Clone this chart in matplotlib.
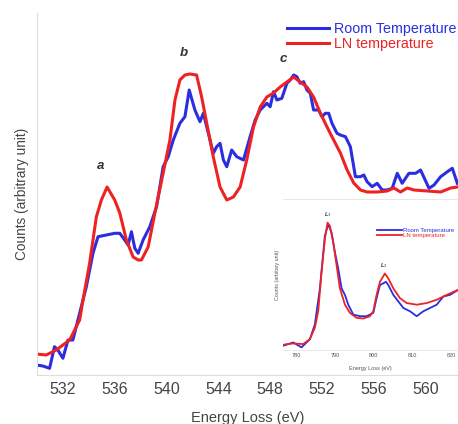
import matplotlib
matplotlib.use("Agg")
import matplotlib.pyplot as plt

# ---- main spectrum (O K-edge) ----
room_E = [529.94, 530.45, 530.97, 531.35, 531.61, 532.0, 532.39, 532.77, 533.29, 533.81,
          534.32, 534.71, 535.35, 536.0, 536.39, 536.77, 537.03, 537.29, 537.55, 537.81,
          538.19, 538.71, 539.23, 539.74, 540.13, 540.52, 541.03, 541.42, 541.75, 542.19,
          542.58, 542.84, 543.23, 543.61, 543.87, 544.13, 544.39, 544.65, 545.03, 545.42,
          545.94, 546.45, 546.84, 547.23, 547.74, 548.0, 548.26, 548.52, 548.90, 549.29,
          549.55, 549.81, 550.06, 550.32, 550.58, 550.84, 551.10, 551.35, 551.74, 552.0,
          552.26, 552.52, 552.77, 553.16, 553.42, 553.81, 554.19, 554.58, 554.97, 555.23,
          555.48, 555.87, 556.26, 556.65, 557.03, 557.42, 557.81, 558.19, 558.71, 559.23,
          559.61, 560.26, 560.65, 561.16, 561.68, 562.06, 562.45]
room_counts = [10, 9, 6.7, 28.3, 25, 16.7, 35, 35, 61.7, 88.3,
               121.7, 138.3, 140, 141.7, 141.7, 135, 130, 143.3, 126.7, 121.7,
               135, 148.3, 168.3, 208.3, 218.3, 235, 251.7, 258.3, 285, 265,
               253.3, 261.7, 241.7, 221.7, 228.3, 231.7, 215, 208.3, 225, 218.3,
               215, 238.3, 255, 265, 271.7, 268.3, 283.3, 275, 276.7, 291.7,
               295, 300, 298.3, 291.7, 293.3, 285, 281.7, 265, 265, 258.3,
               261.7, 261.7, 251.7, 241.7, 240, 238.3, 228.3, 198.3, 198.3, 200,
               193.3, 188.3, 191.7, 185, 185, 186.7, 201.7, 191.7, 201.7, 201.7,
               205, 186.7, 190, 198.3, 203.3, 206.7, 191.7]

ln_E = [529.94, 530.71, 531.48, 532.52, 533.29, 533.55, 534.06, 534.58, 534.97, 535.41,
        536.0, 536.39, 536.90, 537.42, 537.81, 538.06, 538.58, 539.10, 539.74, 540.26,
        540.65, 541.03, 541.42, 541.81, 542.32, 542.71, 543.10, 543.61, 544.13, 544.65,
        545.16, 545.68, 546.19, 546.71, 547.23, 547.74, 548.26, 548.77, 549.29, 549.81,
        550.32, 550.84, 551.35, 551.87, 552.39, 552.90, 553.42, 553.94, 554.45, 554.97,
        555.48, 556.26, 557.03, 557.55, 558.06, 558.58, 559.10, 560.13, 561.16, 561.94,
        562.45]
ln_counts = [21, 20, 25, 35, 55, 75, 111.7, 158, 175, 188,
             175, 162, 135, 118, 115, 115, 128, 162, 202, 235,
             275, 295, 300, 301, 300, 278, 252, 218, 188, 175,
             178, 188, 215, 248, 268, 278, 282, 288, 293, 298,
             293, 288, 278, 262, 248, 235, 222, 205, 192, 185,
             183, 183, 184, 187, 183, 187, 185, 184, 183, 187,
             188]

peak_labels = ["a", "b", "c"]
peak_E = [534.9, 541.3, 549.0]
peak_y = [209, 322, 316]

main_ticks = [532, 536, 540, 544, 548, 552, 556, 560]

# ---- inset spectrum (L-edge) ----
in_room_E = [776.54, 779.14, 781.30, 783.46, 784.75, 786.05, 787.34, 788.21, 789.07, 789.94,
             790.80, 791.66, 792.53, 793.39, 794.69, 796.41, 798.14, 799.87, 800.73, 801.60,
             802.46, 803.15, 803.76, 805.05, 806.35, 807.65, 809.37, 811.10, 812.83, 814.56,
             816.29, 818.01, 819.74, 821.81]
in_room_counts = [5, 15, 0, 25, 70, 180, 340, 375, 350, 290,
                  240, 180, 160, 130, 100, 95, 95, 105, 150, 190,
                  195, 200, 190, 160, 140, 120, 110, 95, 110, 120,
                  130, 155, 160, 175]
in_ln_E = [776.54, 779.14, 781.73, 783.46, 784.75, 785.62, 786.48, 787.34, 788.03, 788.64,
           789.50, 790.37, 791.23, 792.53, 793.82, 795.55, 797.28, 799.01, 799.87, 800.73,
           801.60, 802.89, 803.76, 805.05, 806.78, 808.51, 811.10, 813.69, 816.29, 818.88,
           821.81]
in_ln_counts = [8, 12, 10, 25, 60, 110, 230, 330, 380, 370,
                320, 250, 180, 130, 105, 90, 88, 95, 110, 160,
                200, 225, 210, 180, 150, 135, 130, 135, 145, 160,
                175]
inset_ticks = [780, 790, 800, 810, 820]
inset_peak_labels = ["L$_3$", "L$_2$"]
inset_peak_E = [788.0, 802.6]
inset_peak_y = [405, 250]

BLUE = "#2a2ee0"
RED = "#ee2222"
plt.rcParams['font.family'] = ['Liberation Sans', 'DejaVu Sans']

fig = plt.figure(figsize=(4.58, 4.24), dpi=100)
ax = fig.add_axes([37/458, 49/424, 1 - 37/458, 362/424])
ax.plot(room_E, room_counts, color=BLUE, lw=2.2, label="Room Temperature", solid_joinstyle='round')
ax.plot(ln_E, ln_counts, color=RED, lw=2.2, label="LN temperature", solid_joinstyle='round')
ax.set_xlim(530.0, 562.5)
ax.set_ylim(0, 362)
ax.set_xticks(main_ticks)
ax.set_yticks([])
ax.tick_params(axis='x', length=0, labelsize=11.5, labelcolor="#444444", pad=5)
for s in ['top', 'right']:
    ax.spines[s].set_visible(False)
for s in ['left', 'bottom']:
    ax.spines[s].set_color("#dddddd")
    ax.spines[s].set_linewidth(0.8)
ax.set_xlabel("Energy Loss (eV)", fontsize=10.5, color="#444444", labelpad=10)
ax.set_ylabel("Counts (arbitrary unit)", fontsize=9.8, color="#444444", labelpad=6)
for t, e, y in zip(peak_labels, peak_E, peak_y):
    ax.text(e, y, t, fontsize=9.5, fontweight='bold', fontstyle='italic', color="#333333",
            ha='center', va='center')
leg = ax.legend(loc='upper left', bbox_to_anchor=(0.594, 0.974), frameon=False, fontsize=10.3,
                handlelength=2.9, handletextpad=0.35, labelspacing=0.05, borderaxespad=0.0,
                borderpad=0.0)
for txt, c in zip(leg.get_texts(), [BLUE, RED]):
    txt.set_color(c)

# inset
ins = fig.add_axes([283/458, 74/424, 175/458, 151/424])
ins.set_facecolor("white")
ins.plot(in_room_E, in_room_counts, color=BLUE, lw=1.3, label="Room Temperature")
ins.plot(in_ln_E, in_ln_counts, color=RED, lw=1.3, label="LN temperature")
ins.set_xlim(776.5, 821.8)
ins.set_ylim(-8, 452)
ins.set_xticks(inset_ticks)
ins.set_yticks([])
ins.tick_params(axis='x', length=0, labelsize=4, labelcolor="#555555", pad=2)
for s in ['right', 'left']:
    ins.spines[s].set_visible(False)
for s in ['top', 'bottom']:
    ins.spines[s].set_color("#e4e4e4")
    ins.spines[s].set_linewidth(0.6)
ins.set_xlabel("Energy Loss (eV)", fontsize=4, color="#555555", labelpad=6)
ins.set_ylabel("Counts (arbitary unit)", fontsize=3.8, color="#555555", labelpad=2)
for t, e, y in zip(inset_peak_labels, inset_peak_E, inset_peak_y):
    ins.text(e, y, t, fontsize=4, fontweight='bold', fontstyle='italic', color="#333333",
             ha='center', va='center')
leg2 = ins.legend(loc='upper left', bbox_to_anchor=(0.537, 0.81), frameon=False, fontsize=4.3,
                  handlelength=4.2, handletextpad=0.15, labelspacing=0.05, borderaxespad=0.0,
                  borderpad=0.0)
for txt, c in zip(leg2.get_texts(), [BLUE, RED]):
    txt.set_color(c)

fig.savefig("out.png", dpi=100)
